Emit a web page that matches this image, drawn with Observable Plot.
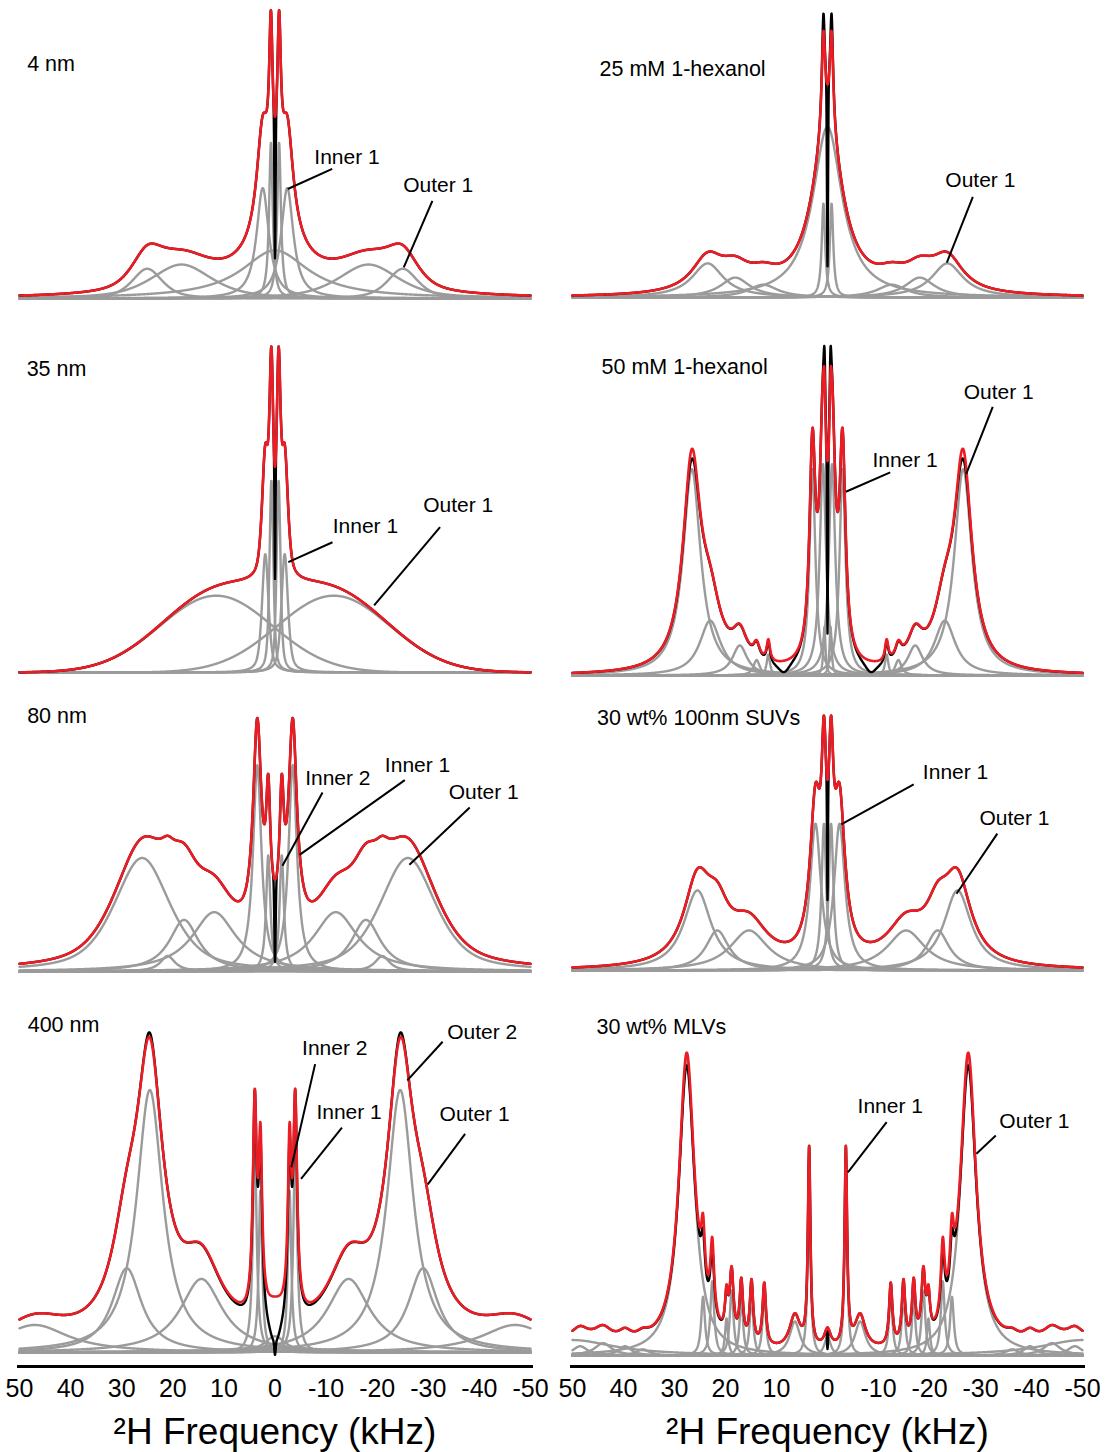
<!DOCTYPE html>
<html>
<head>
<meta charset="utf-8">
<script src="https://cdn.jsdelivr.net/npm/d3@7"></script>
<script src="https://cdn.jsdelivr.net/npm/@observablehq/plot@0.6"></script>
<style>
  body { margin: 0; background: #fff; }
  #fig { position: relative; width: 1108px; height: 1452px; overflow: hidden; font-family: Arial, "Liberation Sans", sans-serif; }
</style>
</head>
<body>
<div id="fig"></div>
<script>
// ---------------- DATA ----------------
// Panel titles
const panelNames = ["4 nm", "25 mM 1-hexanol", "35 nm", "50 mM 1-hexanol",
                    "80 nm", "30 wt% 100nm SUVs", "400 nm", "30 wt% MLVs"];

// Fitted line components: [splitting/2 (kHz, 0 = singlet), relative intensity, FWHM (kHz), Lorentz fraction]
const fit4nm = [[0.8, 0.55, 0.85, 1], [2.4, 0.39, 2.9, 1], [0, 0.17, 16, 1],
                [18.3, 0.12, 14, 0.6], [25, 0.105, 7, 0.6]];
const fit25mM = [[0, 0.6, 7, 1], [0.8, 0.33, 0.8, 1],
                 [12.6, 0.045, 7, 1], [18.1, 0.07, 7, 1], [23.5, 0.12, 7.5, 1]];
const fit35nm = [[0.7, 0.6, 0.9, 0.6], [1.9, 0.37, 1.5, 0.6], [11.5, 0.24, 26, 0]];
const fit50mM = [[0.6, 0.15, 0.5, 1], [0.9, 0.655, 1.5, 1], [2.95, 0.639, 1.4, 1],
                 [11.6, 0.065, 0.8, 1], [13.9, 0.048, 1.5, 1], [17.2, 0.093, 3.5, 1],
                 [23.0, 0.17, 5, 1], [26.6, 0.639, 4.2, 1]];
const fit80nm = [[1.32, 0.45, 1.0, 1], [3.47, 0.80, 2.0, 1], [11.9, 0.23, 10.5, 1],
                 [17.8, 0.2, 7, 1], [21, 0.06, 3.5, 1], [26, 0.44, 13, 0.6]];
const fitSUV = [[0.7, 0.55, 1.1, 1], [2.36, 0.55, 2.6, 1], [15.4, 0.15, 9, 1],
                [21.6, 0.15, 5.5, 1], [25.5, 0.30, 6.5, 1]];
const fit400nm = [[0, 0.05, 5, 1], [2.85, 0.50, 0.8, 1], [3.96, 0.64, 0.9, 1], [14.4, 0.227, 10, 1],
                  [24.5, 0.81, 6.25, 1], [29.0, 0.26, 7, 1], [47, 0.085, 16, 1]];
const fitMLV = [[0, 0.06, 1.5, 1], [3.6, 0.64, 0.6, 1], [6.4, 0.11, 2.5, 1],
                [12.4, 0.2, 0.8, 1], [14.9, 0.2, 0.8, 1], [16.9, 0.19, 0.8, 1],
                [18.8, 0.21, 0.9, 1], [19.8, 0.12, 0.7, 1], [22.6, 0.24, 0.9, 1],
                [24.4, 0.19, 0.9, 1], [27.6, 0.96, 3.7, 1], [36.2, 0.02, 3, 1],
                [39.7, 0.03, 3, 1], [44, 0.04, 4, 1], [48.5, 0.03, 3.5, 1], [50, 0.05, 20, 1]];

// Experimental minus fit (deviations of the black spectrum), same format
const resid4nm = [[0, -0.50, 0.25, 0]];
const resid25mM = [[0.8, 0.06, 0.5, 1], [0, -0.65, 0.25, 0]];
const resid35nm = [[0, -0.35, 0.2, 0]];
const resid50mM = [[0, -0.55, 0.2, 0], [0.55, 0.08, 0.4, 1], [8.5, -0.035, 3, 1], [26.6, -0.03, 2, 1]];
const resid80nm = [[0, -0.32, 0.3, 0]];
const residSUV = [[0, -0.45, 0.2, 0]];
const resid400nm = [[0, -0.14, 3.5, 1], [0, -0.04, 0.3, 0], [24.5, 0.015, 2, 1], [4.0, 0.02, 0.5, 1]];
const residMLV = [[0, -0.07, 0.25, 0], [27.6, -0.04, 2.5, 1], [24.4, -0.04, 1, 1], [22.6, -0.03, 1, 1]];

// Annotations: [text, text x (kHz), text y, leader x1, y1, x2, y2]
const notes4nm = [["Inner 1", -7.7, 0.50, -11.2, 0.458, -2.5, 0.387],
                  ["Outer 1", -25.1, 0.399, -30.8, 0.345, -25.2, 0.11]];
const notes25mM = [["Outer 1", -23.1, 0.411, -28.5, 0.354, -23.4, 0.123]];
const notes35nm = [["Inner 1", -11.3, 0.456, -11.25, 0.407, -2.6, 0.345],
                   ["Outer 1", -29.0, 0.522, -32.3, 0.454, -19.4, 0.21]];
const notes50mM = [["Outer 1", -26.7, 0.876, -32.4, 0.832, -27.2, 0.624],
                   ["Inner 1", -8.8, 0.667, -12.3, 0.629, -3.6, 0.569]];
const notes80nm = [["Inner 2", -5.9, 0.75, -9.3, 0.694, -1.46, 0.41],
                   ["Inner 1", -21.5, 0.80, -25.4, 0.742, -4.8, 0.452],
                   ["Outer 1", -34.0, 0.694, -38.1, 0.636, -26.3, 0.414]];
const notesSUV = [["Inner 1", -18.7, 0.744, -16.9, 0.6975, -2.7, 0.5475],
                  ["Outer 1", -29.8, 0.569, -33.3, 0.5125, -25.3, 0.2875]];
const notes400nm = [["Outer 2", -33.7, 0.988, -32.8, 0.959, -25.9, 0.84],
                    ["Inner 2", -5.3, 0.938, -7.85, 0.89, -3.2, 0.572],
                    ["Inner 1", -8.1, 0.742, -13.1, 0.694, -5.1, 0.536],
                    ["Outer 1", -32.2, 0.734, -37.2, 0.675, -29.9, 0.519]];
const notesMLV = [["Inner 1", -5.9, 0.807, -11.6, 0.755, -4.0, 0.593],
                  ["Outer 1", -33.7, 0.758, -33.0, 0.712, -29.2, 0.653]];

// Panel label anchor (kHz, relative intensity)
const labelPos = [[48.5, 0.829], [44.7, 0.804], [48.6, 0.948], [44.3, 0.956],
                  [48.5, 0.991], [45.2, 0.944], [48.4, 1.01], [45.3, 1.063]];

const xTicks = [50, 40, 30, 20, 10, 0, -10, -20, -30, -40, -50];
const axisTitle = "\u00B2H Frequency (kHz)";

// ---------------- LAYOUT ----------------
const fits = [fit4nm, fit25mM, fit35nm, fit50mM, fit80nm, fitSUV, fit400nm, fitMLV];
const resids = [resid4nm, resid25mM, resid35nm, resid50mM, resid80nm, residSUV, resid400nm, residMLV];
const notes = [notes4nm, notes25mM, notes35nm, notes50mM, notes80nm, notesSUV, notes400nm, notesMLV];
const layout = [
  {col: 0, top: 15, base: 298}, {col: 1, top: 12.7, base: 297},
  {col: 0, top: 352, base: 672}, {col: 1, top: 352, base: 675},
  {col: 0, top: 713, base: 971}, {col: 1, top: 703, base: 970},
  {col: 0, top: 1028, base: 1352}, {col: 1, top: 1046, base: 1355}
];
const cols = [{left: 0, width: 554, xa: 19, xb: 530}, {left: 553, width: 555, xa: 572, xb: 1082}];
const FONT = "Arial, 'Liberation Sans', sans-serif";
const GRAY = "#9b9b9b", RED = "#ec1c24";

// ---------------- MODEL ----------------
const grid = d3.range(2501).map(i => 50 - i * 0.04);
function expand(comps) {
  const out = [];
  comps.forEach(([p, a, w, eta = 1]) => {
    if (p === 0) out.push([0, a, w, eta]);
    else { out.push([p, a, w, eta]); out.push([-p, a, w, eta]); }
  });
  return out;
}
function shape(x, [x0, a, w, eta]) {
  const u = (x - x0) / (w / 2);
  return a * (eta / (1 + u * u) + (1 - eta) * Math.exp(-Math.LN2 * u * u));
}

const fig = document.getElementById("fig");

fits.forEach((fit, k) => {
  const L = layout[k], C = cols[L.col];
  const peaks = expand(fit), dev = expand(resids[k]);
  const gray = [];
  peaks.forEach((pk, j) => grid.forEach(x => gray.push({x, y: shape(x, pk), id: j})));
  const red = grid.map(x => ({x, y: d3.sum(peaks, pk => shape(x, pk))}));
  const black = red.map(d => ({x: d.x, y: d.y + d3.sum(dev, pk => shape(d.x, pk))}));
  const nt = notes[k].map(([t, tx, ty, x1, y1, x2, y2]) => ({t, tx, ty, x1, y1, x2, y2}));
  const svgTop = Math.max(0, L.top - 60);
  const mTop = L.top - svgTop, mBot = 14;
  const height = L.base + mBot - svgTop;
  const plot = Plot.plot({
    width: C.width, height,
    marginLeft: C.xa - C.left, marginRight: C.left + C.width - C.xb,
    marginTop: mTop, marginBottom: mBot,
    style: {background: "none", overflow: "visible", fontFamily: FONT},
    x: {domain: [50, -50], axis: null},
    y: {domain: [0, 1], axis: null},
    marks: [
      Plot.line(gray, {x: "x", y: "y", z: "id", stroke: GRAY, strokeWidth: 2.4}),
      Plot.line(black, {x: "x", y: "y", stroke: "#000", strokeWidth: 2.4}),
      Plot.line(red, {x: "x", y: "y", stroke: RED, strokeWidth: 2.6}),
      Plot.link(nt, {x1: "x1", y1: "y1", x2: "x2", y2: "y2", stroke: "#000", strokeWidth: 2}),
      Plot.text(nt, {x: "tx", y: "ty", text: "t", textAnchor: "start", lineAnchor: "middle",
        fontSize: 21, fill: "#000", fontFamily: FONT}),
      Plot.text([panelNames[k]], {x: () => labelPos[k][0], y: () => labelPos[k][1], text: d => d,
        textAnchor: "start", lineAnchor: "middle", fontSize: 21.5, fill: "#000", fontFamily: FONT})
    ]
  });
  plot.style.position = "absolute";
  plot.style.left = C.left + "px";
  plot.style.top = svgTop + "px";
  plot.style.maxWidth = "none";
  fig.appendChild(plot);
});

// Bottom axes
cols.forEach(C => {
  const top = 1360, height = 92;
  const ax = Plot.plot({
    width: C.width, height,
    marginLeft: C.xa - C.left, marginRight: C.left + C.width - C.xb,
    marginTop: 6, marginBottom: 80,
    style: {background: "none", overflow: "visible", fontFamily: FONT},
    x: {domain: [50, -50], axis: null},
    y: {domain: [0, 1], axis: null},
    marks: [
      Plot.ruleY([1], {stroke: "#000", strokeWidth: 3, insetLeft: -2, insetRight: -3}),
      Plot.text(xTicks, {x: d => d, text: d => String(d), frameAnchor: "top", lineAnchor: "middle",
        dy: 22, fontSize: 25, fill: "#000", fontFamily: FONT}),
      Plot.text([axisTitle], {text: d => d, frameAnchor: "top", lineAnchor: "middle", dy: 66,
        fontSize: 37, fill: "#000", fontFamily: FONT})
    ]
  });
  ax.style.position = "absolute";
  ax.style.left = C.left + "px";
  ax.style.top = top + "px";
  ax.style.maxWidth = "none";
  fig.appendChild(ax);
});
</script>
</body>
</html>
